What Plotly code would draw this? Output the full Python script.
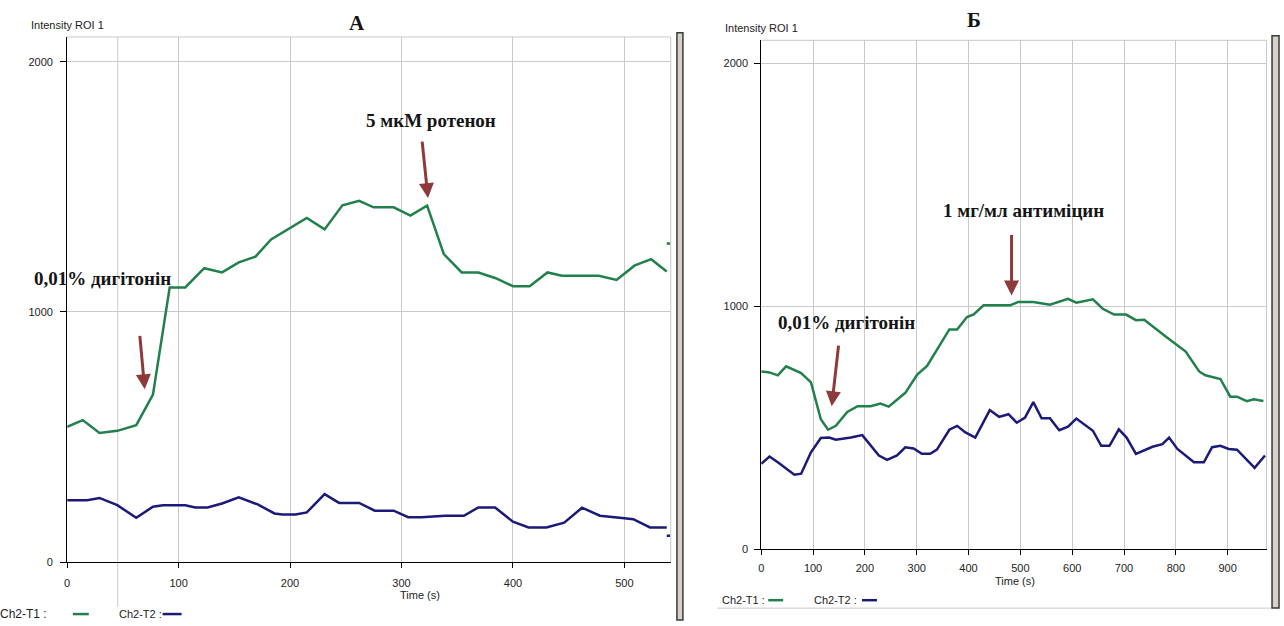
import plotly.graph_objects as go

W, H = 1284, 626

# ---------------- data ----------------
# Panel A
a_t_green = [0, 14, 29, 45, 62, 77, 92, 106, 123, 139, 154, 169, 183, 200, 215, 231, 247, 262,
             275, 293, 308, 323, 338, 354, 369, 384, 400, 415, 431, 444, 477, 493, 509, 524, 538]
a_green = [541, 568, 517, 525, 548, 670, 1098, 1098, 1175, 1158, 1198, 1221, 1290, 1336, 1376, 1330,
           1426, 1444, 1418, 1418, 1385, 1425, 1231, 1158, 1158, 1136, 1103, 1103, 1158, 1145, 1145,
           1128, 1185, 1211, 1162]
a_t_blue = [0, 18, 29, 45, 62, 77, 86, 106, 115, 126, 139, 154, 171, 186, 193, 205, 215, 231, 244,
            262, 276, 293, 306, 318, 339, 356, 369, 384, 400, 414, 430, 446, 462, 478, 500, 508, 523, 538]
a_blue = [248, 248, 257, 228, 178, 222, 228, 228, 219, 219, 235, 259, 231, 195, 191, 191, 199, 272,
          237, 237, 206, 206, 180, 180, 186, 186, 219, 219, 162, 139, 139, 158, 218, 186, 176, 172,
          139, 139]
a_t_tail = [538, 541]
a_green_tail = [1274, 1274]
a_blue_tail = [106, 106]

# Panel Б
b_t_green = [0, 16, 32, 48, 77, 96, 115, 129, 144, 166, 186, 211, 230, 246, 278, 301, 320, 363, 378,
             397, 410, 429, 480, 496, 525, 557, 592, 608, 640, 659, 681, 704, 723, 739, 781, 819,
             845, 857, 886, 905, 918, 937, 950, 969]
b_green = [732, 728, 716, 753, 725, 687, 535, 492, 508, 565, 589, 589, 600, 587, 644, 719, 755, 905,
           905, 956, 967, 1004, 1004, 1018, 1018, 1007, 1031, 1015, 1029, 990, 966, 966, 943, 945,
           875, 814, 732, 716, 701, 628, 628, 610, 617, 610]
b_t_blue = [0, 16, 32, 64, 77, 96, 115, 131, 144, 173, 195, 227, 243, 262, 278, 294, 310, 326, 339,
            363, 378, 394, 413, 441, 459, 477, 493, 509, 525, 541, 557, 575, 592, 608, 640, 656, 672,
            690, 705, 723, 755, 774, 787, 803, 835, 854, 870, 886, 902, 918, 952, 972]
b_blue = [352, 382, 358, 307, 311, 399, 458, 460, 451, 460, 470, 386, 368, 386, 420, 415, 393, 393,
          410, 492, 508, 481, 460, 573, 545, 556, 521, 542, 606, 539, 539, 490, 505, 538, 488, 426,
          426, 494, 460, 393, 422, 433, 460, 413, 358, 358, 420, 426, 413, 410, 335, 386]

a_xticks = [0, 100, 200, 300, 400, 500]
b_xticks = [0, 100, 200, 300, 400, 500, 600, 700, 800, 900]
yticks = [0, 1000, 2000]

GREEN = '#22804c'
BLUE = '#1b1a78'
ARROW = '#8e3a3a'
GRID = '#c9c9c9'
TXT = '#222222'


def X(px):
    return px / W


def Y(py):
    return 1 - py / H


fig = go.Figure()
for xs, ys, col, ax in [(a_t_green, a_green, GREEN, ('x', 'y')),
                        (a_t_blue, a_blue, BLUE, ('x', 'y')),
                        (a_t_tail, a_green_tail, GREEN, ('x', 'y')),
                        (a_t_tail, a_blue_tail, BLUE, ('x', 'y')),
                        (b_t_green, b_green, GREEN, ('x2', 'y2')),
                        (b_t_blue, b_blue, BLUE, ('x2', 'y2'))]:
    fig.add_trace(go.Scatter(x=xs, y=ys, mode='lines', line=dict(color=col, width=2.5),
                             xaxis=ax[0], yaxis=ax[1], showlegend=False, hoverinfo='skip',
                             cliponaxis=False))

tickfont = dict(family='Liberation Sans', size=11, color=TXT)
axcommon = dict(showline=True, linecolor='black', linewidth=1, ticks='outside',
                tickcolor='black', showgrid=True, gridcolor=GRID, gridwidth=1,
                zeroline=False, tickfont=tickfont, fixedrange=True)

fig.update_layout(
    width=W, height=H, margin=dict(l=0, r=0, t=0, b=0),
    paper_bgcolor='white', plot_bgcolor='white',
    xaxis=dict(domain=[X(64.3), X(669.3)], range=[0, 541.6], anchor='y', tickvals=a_xticks,
               ticklen=5, ticklabelstandoff=6, **axcommon),
    yaxis=dict(domain=[Y(567.7), Y(37.3)], range=[0, 2099], anchor='x', tickvals=yticks,
               ticklen=6, ticklabelstandoff=5, **axcommon),
    xaxis2=dict(domain=[X(760), X(1266.5)], range=[0, 975], anchor='y2', tickvals=b_xticks,
                ticklen=5, ticklabelstandoff=4, **axcommon),
    yaxis2=dict(domain=[Y(554.6), Y(40.7)], range=[0, 2095], anchor='x2', tickvals=yticks,
                ticklen=6, ticklabelstandoff=4, **axcommon),
)

shapes = []
# frames (top / right) in light grey
for (x0, y0, x1, y1) in [(64.3, 37.3, 669.3, 37.3), (669.3, 37.3, 669.3, 567.7),
                         (115, 37.3, 115, 613),
                         (760, 40.7, 1266.5, 40.7), (1266.5, 40.7, 1266.5, 554.6),
                         (716, 614, 1271, 614)]:
    shapes.append(dict(type='line', xref='paper', yref='paper', x0=X(x0), y0=Y(y0), x1=X(x1),
                       y1=Y(y1), line=dict(color=GRID, width=1), layer='below'))
# window splitter bars
for (x0, y0, x1, y1) in [(675.5, 33, 681.5, 626), (1272, 36, 1279, 614)]:
    shapes.append(dict(type='rect', xref='paper', yref='paper', x0=X(x0), y0=Y(y1), x1=X(x1),
                       y1=Y(y0), fillcolor='#d6d2ca', line=dict(color='#3a3a3a', width=1.5)))
# legend line samples
for (x0, x1, y, col) in [(70, 86, 620, GREEN), (160, 179, 620, BLUE),
                         (767, 782, 606, GREEN), (861, 876, 606, BLUE)]:
    shapes.append(dict(type='line', xref='paper', yref='paper', x0=X(x0), y0=Y(y), x1=X(x1),
                       y1=Y(y), line=dict(color=col, width=2.5)))
fig.update_layout(shapes=shapes)

ann = []
small = dict(family='Liberation Sans', size=11, color=TXT)
serif = dict(family='Liberation Serif', size=19, color='#141414')


def txt(text, x, y, font, xanchor='left'):
    ann.append(dict(text=text, x=X(x), y=Y(y), xref='paper', yref='paper', showarrow=False,
                    xanchor=xanchor, yanchor='middle', font=font))


txt('Intensity ROI 1', 26, 25, small)
txt('Intensity ROI 1', 721.5, 28, small)
txt('Time (s)', 418, 601, small, 'center')
txt('Time (s)', 1014, 587, small, 'center')
txt('Ch2-T1 :', -5, 620, dict(family='Liberation Sans', size=12, color=TXT))
txt('Ch2-T2 :', 114, 620, small)
txt('Ch2-T1 :', 718.5, 606, small)
txt('Ch2-T2 :', 810.5, 606, small)
txt('<b>А</b>', 355, 23, dict(family='Liberation Serif', size=21, color='#141414'), 'center')
txt('<b>Б</b>', 973, 20, dict(family='Liberation Serif', size=21, color='#141414'), 'center')
txt('<b>0,01% дигітонін</b>', 29, 281, serif)
txt('<b>5 мкМ ротенон</b>', 362, 122, serif)
txt('<b>1 мг/мл антиміцин</b>', 940, 213, serif)
txt('<b>0,01% дигітонін</b>', 775, 326, serif)

# arrows (tip in data coordinates, tail offset in pixels)
for (xa, ya, t, v, axp, ayp) in [('x', 'y', 69.6, 691, -5, -55),
                                 ('x', 'y', 323.8, 1455, -6, -58),
                                 ('x2', 'y2', 483, 1045, 0, -62),
                                 ('x2', 'y2', 136, 589, 7, -62)]:
    ann.append(dict(x=t, y=v, xref=xa, yref=ya, ax=axp, ay=ayp, text='', showarrow=True,
                    arrowhead=2, arrowsize=1, arrowwidth=3, arrowcolor=ARROW))

fig.update_layout(annotations=ann)
fig.write_html('out.html', config={'displayModeBar': False},
               post_script="document.body.style.margin='0px';"
                           "document.body.style.padding='0px';"
                           "document.body.style.overflow='hidden';")
